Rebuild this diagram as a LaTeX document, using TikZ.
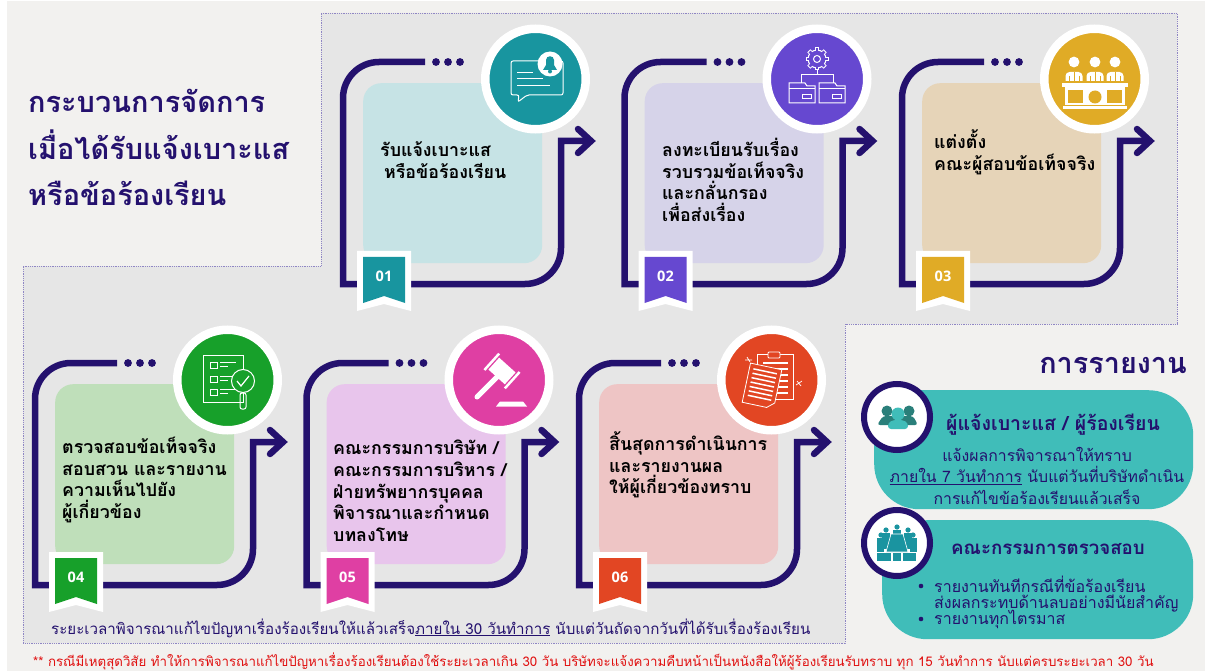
\documentclass[tikz,border=0pt]{standalone}
\usepackage{fontspec}
\setmainfont[Script=Thai]{Loma}
\newfontfamily\numfont{Open Sans}
\usetikzlibrary{calc}
\definecolor{ink}{HTML}{24116E}
\definecolor{pagebg}{HTML}{F2F1EF}
\definecolor{panelbg}{HTML}{E6E6E6}
\definecolor{edge}{HTML}{8F86C4}
\definecolor{aqua}{HTML}{40BDB9}
\definecolor{iconteal}{HTML}{1A94A0}
\definecolor{darkteal}{HTML}{2A7F7A}
\definecolor{cA}{HTML}{18959F}\definecolor{lA}{HTML}{C6E3E5}
\definecolor{cB}{HTML}{6648D0}\definecolor{lB}{HTML}{D6D3E9}
\definecolor{cC}{HTML}{E0AB26}\definecolor{lC}{HTML}{E6D4B8}
\definecolor{cD}{HTML}{17A02A}\definecolor{lD}{HTML}{BFDFBA}
\definecolor{cE}{HTML}{DF3FA3}\definecolor{lE}{HTML}{E8C5EC}
\definecolor{cF}{HTML}{E24623}\definecolor{lF}{HTML}{EEC5C5}
\definecolor{notered}{HTML}{E01010}
\newcommand{\fsz}[2]{\fontsize{#1}{#2}\selectfont}
\tikzset{
  x=1pt,y=-1pt,
  flowline/.style={draw=ink,line width=6.5pt},
  headline/.style={draw=ink,line width=6.5pt,line cap=round,line join=miter},
  iconline/.style={draw=white,line width=1pt},
  steptext/.style={anchor=west,align=left,inner sep=0pt,font=\bfseries\fsz{17.8}{21.7},text=black},
  bluetext/.style={inner sep=0pt,text=ink},
}
% #1 id  #2 x0  #3 y0  #4 dark  #5 light  #6 number
\newcommand{\stepmod}[6]{
  \begin{scope}[shift={(#2,#3)}]
    \node[fill=#5,rounded corners=18pt,minimum width=179pt,minimum height=180pt,inner sep=0pt,anchor=north west] (#1box) at (20,21) {};
    \coordinate (#1a) at (82,0);
    \coordinate (#1b) at (0,0);
    \coordinate (#1c) at (0,222);
    \coordinate (#1d) at (218,222);
    \coordinate (#1e) at (218,79);
    \coordinate (#1f) at (248,79);
    \coordinate (#1g) at (235,67);
    \coordinate (#1h) at (235,91);
    \draw[flowline] (#1a) [rounded corners=36pt] -- (#1b) [sharp corners] -- (#1c) -- ($(#1d)+(-36,0)$) .. controls ($(#1d)+(-16,0)$) and ($(#1d)+(0,-16)$) .. ($(#1d)+(0,-36)$) -- (#1e) -- (#1f);
    \draw[headline] (#1g) -- (#1f) -- (#1h);
    \foreach \dx in {93,105,117}{\fill[ink] (\dx,0) circle (3.9pt);}
    \node[circle,fill=#4,draw=white,line width=8.5pt,minimum size=100.5pt,inner sep=0pt] (#1circ) at (192.5,17) {};
    \fill[white] (14,189) -- (68,189) -- (68,249) -- (41,242) -- (14,249) -- cycle;
    \fill[#4] (20,195) -- (62,195) -- (62,241) -- (41,234) -- (20,241) -- cycle;
    \node[text=white,inner sep=0pt,font=\numfont\bfseries\fsz{14.5}{16}] (#1num) at (41,214) {#6};
  \end{scope}
}
\begin{document}
\begin{tikzpicture}
\useasboundingbox (0,0) rectangle (1205,671);
\fill[pagebg] (7,1) rectangle (1205,671);
\fill[panelbg] (321,13) -- (1177,13) -- (1177,324) -- (845,324) -- (845,643) -- (23,643) -- (23,266) -- (321,266) -- cycle;
\draw[edge,line width=0.8pt,densely dotted] (321,13) -- (1177,13) -- (1177,324) -- (845,324) -- (845,643) -- (23,643) -- (23,266) -- (321,266) -- cycle;

\stepmod{sa}{343}{62}{cA}{lA}{01}
\stepmod{sb}{624.5}{62}{cB}{lB}{02}
\stepmod{sc}{902}{62}{cC}{lC}{03}
\stepmod{sd}{35}{363}{cD}{lD}{04}
\stepmod{se}{306.5}{363}{cE}{lE}{05}
\stepmod{sf}{579}{363}{cF}{lF}{06}

% icon 1: speech bubble and bell
\draw[iconline,rounded corners=2pt] (511,61) -- (563,61) -- (563,95) -- (527,95) -- (518,102) -- (519,95) -- (511,95) -- cycle;
\draw[iconline] (517,73) -- (533,73) (517,79) -- (543,79) (517,86) -- (550,86);
\fill[white] (550,64) circle (12.5pt);
\fill[cA] (543,70) -- (557,70) -- (554,65) -- (554,60) .. controls (554,55) and (546,55) .. (546,60) -- (546,65) -- cycle;
\fill[cA] (550,71.5) circle (2pt);

% icon 2: gear and folders
\foreach \a in {0,45,...,315}{\draw[white,line width=4.5pt] (817,59) -- ++(\a:-11.5) ;}
\fill[white] (817,59) circle (9.5pt);
\foreach \a in {0,45,...,315}{\draw[cB,line width=2.5pt] (817,59) -- ++(\a:-10.5);}
\fill[cB] (817,59) circle (8.3pt);
\draw[iconline] (817,59) circle (3.5pt);
\draw[iconline] (817,70) -- (817,75) (801,83) -- (801,75) -- (833,75) -- (833,83);
\foreach \fx in {789,819}{
  \draw[iconline] (\fx,83) -- (\fx+16,83) -- (\fx+18,86) -- (\fx+26,86) -- (\fx+26,103) -- (\fx,103) -- cycle;
  \draw[iconline] (\fx,89) -- (\fx+26,89);
  \draw[iconline] (\fx+13,95) rectangle (\fx+22,99);
}

% icon 3: panel of three at a desk
\foreach \px/\py in {1074/62,1095/62,1115/62}{
  \fill[white] (\px,\py) circle (5.4pt);
  \fill[white,rounded corners=4pt] (\px-8.5,85) -- (\px-8.5,72) -- (\px+8.5,72) -- (\px+8.5,85) -- cycle;
  \draw[cC,line width=0.7pt] (\px,72) -- (\px,82) (\px-5,76) -- (\px-5,82) (\px+5,76) -- (\px+5,82);
}
\fill[cC] (1060,81.5) rectangle (1130,83);
\fill[white] (1062,83) rectangle (1128,87);
\fill[white] (1065,87) rectangle (1125,105);
\fill[white] (1063,106) rectangle (1127,109);
\fill[cC] (1068,90) rectangle (1083,103);
\fill[cC] (1107,90) rectangle (1122,103);
\fill[cC] (1095,97) circle (6.5pt);

% icon 4: checklist and magnifier
\draw[iconline] (203,355) rectangle (243,402);
\foreach \by in {362,376,389}{
  \draw[iconline] (210,\by) rectangle (217,\by+6);
  \draw[iconline] (220,\by) -- (236,\by) (220,\by+4) -- (228,\by+4);
}
\fill[cD] (243,381) circle (11.5pt);
\draw[iconline] (243,381) circle (11.5pt);
\draw[iconline,line width=1.2pt] (237,381) -- (241,386) -- (249,376);
\draw[iconline,rounded corners=2pt] (240,393) rectangle (246,409);

% icon 5: gavel
\begin{scope}[shift={(502,371)},rotate=-42]
  \fill[white] (-11,-8) rectangle (11,8);
  \fill[white] (-15,-11) rectangle (-12.5,11);
  \fill[white] (12.5,-11) rectangle (15,11);
\end{scope}
\draw[white,line width=5pt,line cap=round] (477,397) -- (497,377);
\fill[white] (500,401.5) -- (523,401.5) -- (527,406.5) -- (496,406.5) -- cycle;

% icon 6: clipboard and sheet
\draw[iconline,line width=0.8pt] (757,354) rectangle (793,399);
\draw[iconline,line width=0.8pt,fill=cF,rounded corners=1pt] (768,352) rectangle (780,358);
\foreach \ly in {363,369,...,393}{\draw[white,line width=1.2pt] (763,\ly) -- (788,\ly);}
\begin{scope}[shift={(762,386)},rotate=-12]
  \fill[cF] (-16,-20) rectangle (16,20);
  \draw[iconline,line width=0.8pt] (-16,-20) -- (16,-20) -- (16,14) -- (9,20) -- (-16,20) -- cycle;
  \foreach \ly in {-15,-10.5,...,14}{\draw[white,line width=1.5pt] (-12,\ly) -- (12,\ly);}
\end{scope}
\draw[white,line width=0.7pt] (747,357) -- (750,362) (745,360) -- (752,360) (797,381) -- (801,386) (796,385) -- (802,381);

% step texts
\node[steptext] (ta) at (380,160) {รับแจ้งเบาะแส\\\hspace{4pt}หรือข้อร้องเรียน};
\node[steptext] (tb) at (662,180) {ลงทะเบียนรับเรื่อง\\รวบรวมข้อเท็จจริง\\และกลั่นกรอง\\เพื่อส่งเรื่อง};
\node[steptext] (tc) at (934,152.5) {แต่งตั้ง\\คณะผู้สอบข้อเท็จจริง};
\node[steptext] (td) at (62,480) {ตรวจสอบข้อเท็จจริง\\สอบสวน และรายงาน\\ความเห็นไปยัง\\ผู้เกี่ยวข้อง};
\node[steptext] (te) at (333,491) {คณะกรรมการบริษัท /\\คณะกรรมการบริหาร /\\ฝ่ายทรัพยากรบุคคล\\พิจารณาและกำหนด\\บทลงโทษ};
\node[steptext] (tf) at (609,465) {สิ้นสุดการดำเนินการ\\และรายงานผล\\ให้ผู้เกี่ยวข้องทราบ};

% title
\node[bluetext,anchor=west,font=\bfseries\fsz{28.9}{46.5},align=left] (title) at (28,147.5) {กระบวนการจัดการ\\เมื่อได้รับแจ้งเบาะแส\\หรือข้อร้องเรียน};

% reporting column
\node[bluetext,anchor=east,font=\bfseries\fsz{28.8}{30}] (rephead) at (1187,365) {การรายงาน};
\node[fill=aqua,rounded corners=45pt,inner sep=0pt,minimum width=319pt,minimum height=119pt,anchor=north west] (pilla) at (874,390) {};
\node[fill=aqua,rounded corners=45pt,inner sep=0pt,minimum width=311pt,minimum height=119pt,anchor=north west] (pillb) at (882,520) {};
\node[circle,fill=white,draw=ink,line width=6pt,minimum size=66pt,inner sep=0pt] (cira) at (897,417) {};
\node[circle,fill=white,draw=ink,line width=6pt,minimum size=66pt,inner sep=0pt] (cirb) at (897,543) {};
% people
\foreach \hx in {887,909}{\fill[darkteal] (\hx,411) circle (5.5pt);}
\fill[darkteal,rounded corners=3pt] (877,425) -- (883,416) -- (913,416) -- (918,425) -- cycle;
\fill[aqua] (898,414) circle (6.5pt);
\fill[aqua,rounded corners=3pt] (888,429) -- (888,423) -- (893,420) -- (903,420) -- (908,423) -- (908,429) -- cycle;
% meeting
\foreach \hx/\hy in {897/527,886/530,908/530,881/535,913/535}{\fill[iconteal] (\hx,\hy) circle (2.6pt);}
\fill[iconteal] (877,538) rectangle (884,552);
\fill[iconteal] (910,538) rectangle (917,552);
\fill[iconteal] (882,533) rectangle (890,549);
\fill[iconteal] (904,533) rectangle (912,549);
\fill[iconteal] (893,530) rectangle (901,534);
\fill[iconteal,draw=white,line width=0.6pt] (891,534) -- (903,534) -- (908,552) -- (886,552) -- cycle;
\fill[iconteal] (877,553) rectangle (891,561);
\fill[iconteal] (893,553) rectangle (901,561);
\fill[iconteal] (903,553) rectangle (916,561);

\node[bluetext,font=\bfseries\fsz{19.5}{24}] (pta) at (1053,425) {ผู้แจ้งเบาะแส / ผู้ร้องเรียน};
\node[bluetext,font=\fsz{15.8}{21.5},align=center] (ptb) at (1037,475.5) {แจ้งผลการพิจารณาให้ทราบ\\\underline{ภายใน 7 วันทำการ} นับแต่วันที่บริษัทดำเนิน\\การแก้ไขข้อร้องเรียนแล้วเสร็จ};
\node[bluetext,font=\bfseries\fsz{18.7}{22}] (ptc) at (1048,549) {คณะกรรมการตรวจสอบ};
\fill[ink] (921,586) circle (2.3pt);
\fill[ink] (921,619) circle (2.3pt);
\node[bluetext,font=\fsz{16}{16.5},align=left,anchor=west] (ptd) at (934,594) {รายงานทันทีกรณีที่ข้อร้องเรียน\\ส่งผลกระทบด้านลบอย่างมีนัยสำคัญ};
\node[bluetext,font=\fsz{16}{16.5},anchor=west] (pte) at (934,619) {รายงานทุกไตรมาส};

% bottom notes
\node[bluetext,font=\fsz{15.14}{18},anchor=west] (noteA) at (51,628) {ระยะเวลาพิจารณาแก้ไขปัญหาเรื่องร้องเรียนให้แล้วเสร็จ\underline{ภายใน 30 วันทำการ} นับแต่วันถัดจากวันที่ได้รับเรื่องร้องเรียน};
\node[inner sep=0pt,text=notered,font=\fsz{13.3}{16},anchor=west] (noteB) at (33,661) {** กรณีมีเหตุสุดวิสัย ทำให้การพิจารณาแก้ไขปัญหาเรื่องร้องเรียนต้องใช้ระยะเวลาเกิน 30 วัน บริษัทจะแจ้งความคืบหน้าเป็นหนังสือให้ผู้ร้องเรียนรับทราบ ทุก 15 วันทำการ นับแต่ครบระยะเวลา 30 วัน};
\end{tikzpicture}
\end{document}
